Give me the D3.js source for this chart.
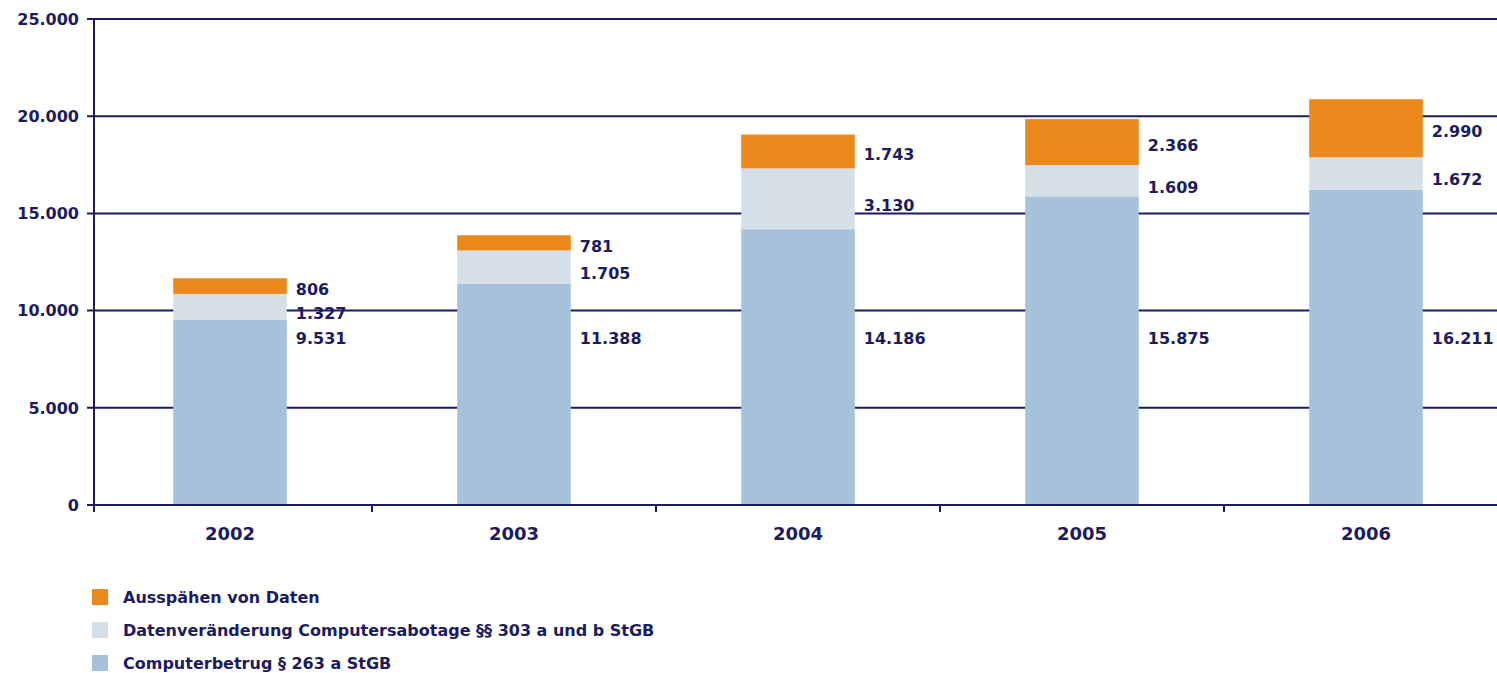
<!DOCTYPE html>
<html><head><meta charset="utf-8">
<script src="https://cdn.jsdelivr.net/npm/d3@7"></script>
<style>body{margin:0;background:#fff}svg{display:block}text{font-family:"DejaVu Sans",Verdana,sans-serif;font-weight:bold;fill:#1b1b5e}</style>
</head><body><svg id="c" width="1497" height="673"></svg>
<script>
const years = ["2002","2003","2004","2005","2006"];
const computerbetrug = [9531, 11388, 14186, 15875, 16211];
const datenveraenderung = [1327, 1705, 3130, 1609, 1672];
const ausspaehen = [806, 781, 1743, 2366, 2990];
const seriesNames = ["Computerbetrug § 263 a StGB","Datenveränderung Computersabotage §§ 303 a und b StGB","Ausspähen von Daten"];
const seriesColors = ["#a6c2da","#d5dfe8","#ec891d"];
const yTicks = [0,5000,10000,15000,20000,25000];
const fmt = v => d3.format(",")(v).replace(/,/g,".");

const svg = d3.select("#c");
const navy = "#1b1b5e";
const y = d3.scaleLinear().domain([0,25000]).range([505,19]);
const x = d3.scaleBand().domain(years).range([88,1508]).paddingInner(0.6).paddingOuter(0.3);

// gridlines
svg.append("g").selectAll("line").data(yTicks).join("line")
  .attr("x1",87).attr("x2",1497).attr("y1",d=>y(d)).attr("y2",d=>y(d))
  .attr("stroke",navy).attr("stroke-width",2);
svg.append("g").selectAll("text").data(yTicks).join("text")
  .attr("x",79).attr("y",d=>y(d)).attr("dy","0.36em").attr("text-anchor","end")
  .attr("font-size",16).text(d=>fmt(d));

const data = years.map((yr,i)=>({year:yr,Computerbetrug:computerbetrug[i],Daten:datenveraenderung[i],Aus:ausspaehen[i]}));
const keys = ["Computerbetrug","Daten","Aus"];
const stack = d3.stack().keys(keys)(data);

stack.forEach((s,si)=>{
  svg.append("g").selectAll("rect").data(s).join("rect")
    .attr("x",d=>x(d.data.year)).attr("width",x.bandwidth())
    .attr("y",d=>y(d[1])).attr("height",d=>y(d[0])-y(d[1]))
    .attr("fill",seriesColors[si]);
});

// axes lines
svg.append("line").attr("x1",94).attr("x2",94).attr("y1",19).attr("y2",512).attr("stroke",navy).attr("stroke-width",2);
svg.append("line").attr("x1",94).attr("x2",1497).attr("y1",505).attr("y2",505).attr("stroke",navy).attr("stroke-width",2);
const step = x.step();
const bounds = years.slice(1).map(yr=>x(yr)+x.bandwidth()/2-step/2);
svg.append("g").selectAll("line").data(bounds).join("line")
  .attr("x1",d=>d).attr("x2",d=>d).attr("y1",505).attr("y2",512).attr("stroke",navy).attr("stroke-width",2);
svg.append("g").selectAll("text").data(years).join("text")
  .attr("x",d=>x(d)+x.bandwidth()/2).attr("y",540).attr("text-anchor","middle").attr("font-size",18).text(d=>d);

// value labels
stack.forEach((s,si)=>{
  svg.append("g").selectAll("text").data(s).join("text")
    .attr("x",d=>x(d.data.year)+x.bandwidth()+9)
    .attr("y",d=> si===0 ? y(8600) : (y(d[0])+y(d[1]))/2 + (si===1?6:3))
    .attr("dy","0.36em").attr("font-size",16)
    .text(d=>fmt(d[1]-d[0]));
});

// legend
const legOrder = [2,1,0];
const lg = svg.append("g").selectAll("g").data(legOrder).join("g")
  .attr("transform",(d,i)=>`translate(92,${589+i*33})`);
lg.append("rect").attr("width",16).attr("height",16).attr("fill",d=>seriesColors[d]);
lg.append("text").attr("x",31).attr("y",8).attr("dy","0.36em").attr("font-size",16).text(d=>seriesNames[d]);
</script></body></html>
